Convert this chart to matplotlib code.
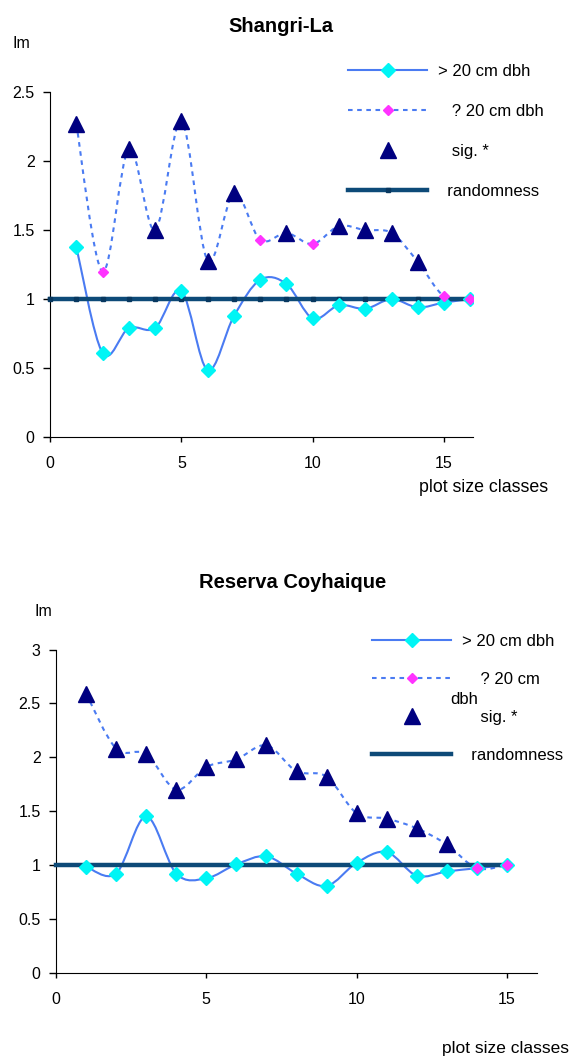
"""
Lloyd's index (Im) against plot size classes, two sites.
Two stacked panels, Excel-style smoothed lines.
"""
import matplotlib
matplotlib.use("Agg")
import matplotlib.pyplot as plt
import numpy as np
from matplotlib.lines import Line2D
from matplotlib.patches import PathPatch
from matplotlib.path import Path

BLUE, CYAN, MAGENTA, NAVY, RAND = "#4a7bf2", "#00f5f5", "#ff33ff", "#000080", "#0d4a78"
plt.rcParams.update({"font.family": ["Liberation Sans", "DejaVu Sans"], "font.size": 11.5})

# --- Shangri-La ---
sh_x = list(range(1, 17))
sh_big = [1.38, 0.61, 0.79, 0.79, 1.06, 0.485, 0.877, 1.14, 1.11, 0.86, 0.956, 0.93, 1.0, 0.94, 0.975, 1.0]
sh_small = [2.27, 1.20, 2.09, 1.50, 2.29, 1.28, 1.77, 1.43, 1.48, 1.40, 1.53, 1.50, 1.48, 1.27, 1.02, 1.00]
sh_sig = [1, 0, 1, 1, 1, 1, 1, 0, 1, 0, 1, 1, 1, 1, 0, 0]
sh_rand_x = list(range(0, 17))

# --- Reserva Coyhaique ---
rc_x = list(range(1, 16))
rc_big = [0.985, 0.92, 1.45, 0.92, 0.876, 1.006, 1.08, 0.92, 0.805, 1.02, 1.12, 0.90, 0.94, 0.97, 1.0]
rc_small = [2.59, 2.08, 2.03, 1.70, 1.91, 1.98, 2.11, 1.87, 1.82, 1.48, 1.43, 1.34, 1.19, 0.97, 1.0]
rc_sig = [1, 1, 1, 1, 1, 1, 1, 1, 1, 1, 1, 1, 1, 0, 0]
rc_rand_x = list(range(0, 16))

W, H = 572, 1057
LEG_FS = 12


def smooth_path(xs, ys):
    # Catmull-Rom style bezier, like Excel's "smoothed line"
    pts = np.column_stack([xs, ys]).astype(float)
    n = len(pts)
    verts, codes = [pts[0]], [Path.MOVETO]
    for i in range(n - 1):
        p0, p1 = pts[max(i - 1, 0)], pts[i]
        p2, p3 = pts[i + 1], pts[min(i + 2, n - 1)]
        verts += [p1 + (p2 - p0) / 6, p2 - (p3 - p1) / 6, p2]
        codes += [Path.CURVE4] * 3
    return Path(verts, codes)


def panel(box, x, big, small, sig, rand_x, xmax, ymax, squares):
    l, t, r, b = box
    ax = fig.add_axes([l / W, 1 - b / H, (r - l) / W, (b - t) / H])
    ax.add_patch(PathPatch(smooth_path(x, big), fill=False, ec=BLUE, lw=1.5, zorder=2))
    ax.add_patch(PathPatch(smooth_path(x, small), fill=False, ec=BLUE, lw=1.5,
                           ls=(0, (2.2, 2.2)), zorder=2))
    ax.plot(rand_x, [1.0] * len(rand_x), color=RAND, lw=3.2, zorder=3,
            marker="s" if squares else None, ms=3.2, mfc="#083860", mec="#083860",
            solid_capstyle="projecting", clip_on=False)
    ax.plot(x, big, ls="none", marker="D", ms=7, color=CYAN, zorder=4)
    sx = [xi for xi, s in zip(x, sig) if not s]
    sy = [yi for yi, s in zip(small, sig) if not s]
    ax.plot(sx, sy, ls="none", marker="D", ms=5, color=MAGENTA, zorder=4)
    tx = [xi for xi, s in zip(x, sig) if s]
    ty = [yi for yi, s in zip(small, sig) if s]
    ax.plot(tx, ty, ls="none", marker="^", ms=11, color=NAVY, zorder=5)
    ax.set_xlim(0, xmax); ax.set_ylim(0, ymax)
    ax.set_xticks([0, 5, 10, 15])
    yt = np.arange(0, ymax + 0.01, 0.5)
    ax.set_yticks(yt)
    ax.set_yticklabels([f"{v:g}" for v in yt])
    for s in ("top", "right"):
        ax.spines[s].set_visible(False)
    ax.tick_params(axis="x", direction="out", length=3.5, width=1, pad=10.5)
    ax.tick_params(axis="y", direction="out", length=5, width=1, pad=6)
    ax.patch.set_alpha(0)
    return ax


def legend(ax, x0, y0, squares, labels, spacing):
    hs = [Line2D([], [], color=BLUE, lw=1.5, marker="D", ms=7, mfc=CYAN, mec=CYAN),
          Line2D([], [], color=BLUE, lw=1.5, ls=(0, (2.2, 2.2)), marker="D", ms=5,
                 mfc=MAGENTA, mec=MAGENTA),
          Line2D([], [], ls="none", marker="^", ms=11, color=NAVY),
          Line2D([], [], color=RAND, lw=3.2, marker="s" if squares else None, ms=3.2,
                 mfc="#083860", mec="#083860")]
    ax.legend(hs, labels, loc="upper left", bbox_to_anchor=(x0 / W, 1 - y0 / H),
              bbox_transform=fig.transFigure, frameon=False, borderpad=0, borderaxespad=0,
              handlelength=4.74, handletextpad=0.66, labelspacing=spacing, numpoints=1,
              fontsize=LEG_FS)


fig = plt.figure(figsize=(W / 100, H / 100), dpi=100)

ax1 = panel((50, 92.3, 473, 437), sh_x, sh_big, sh_small, sh_sig, sh_rand_x, 16.1, 2.5, True)
legend(ax1, 348, 63.6, True,
       ["> 20 cm dbh", "   ? 20 cm dbh", "   sig. *", "  randomness"], 1.5)
fig.text(281 / W, 1 - 26 / H, "Shangri-La", ha="center", va="center",
         fontsize=14.5, fontweight="bold")
fig.text(13 / W, 1 - 43 / H, "Im", ha="left", va="center", fontsize=11.5)
fig.text(418.7 / W, 1 - 488 / H, "plot size classes", ha="left", va="center", fontsize=12.8)

ax2 = panel((56, 649.5, 537, 972.7), rc_x, rc_big, rc_small, rc_sig, rc_rand_x, 16, 3, False)
legend(ax2, 372, 633.6, False,
       ["> 20 cm dbh", "    ? 20 cm", "    sig. *", "  randomness"], 1.38)
fig.text(293 / W, 1 - 582 / H, "Reserva Coyhaique", ha="center", va="center",
         fontsize=14.5, fontweight="bold")
fig.text(34 / W, 1 - 612 / H, "Im", ha="left", va="center", fontsize=11.5)
fig.text(450 / W, 1 - 700 / H, "dbh", ha="left", va="center", fontsize=LEG_FS)
fig.text(442 / W, 1 - 1049 / H, "plot size classes", ha="left", va="center", fontsize=12.5)

fig.savefig("out.png", dpi=100)
